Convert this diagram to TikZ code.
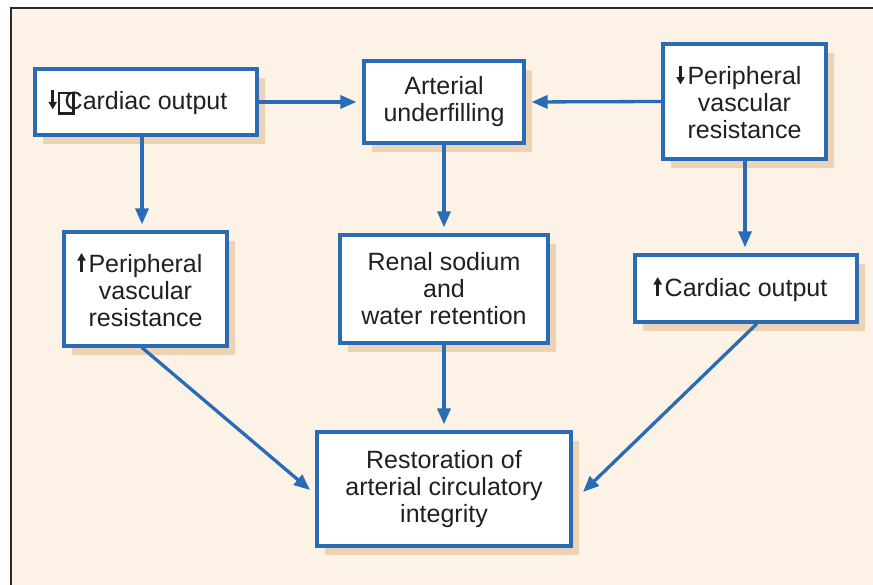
\documentclass[tikz,border=0pt]{standalone}
\usepackage{fontspec}
\setmainfont{Liberation Sans}
\usetikzlibrary{arrows.meta,shadows}
\definecolor{cream}{HTML}{FCF2E5}
\definecolor{peach}{HTML}{EDD2B3}
\definecolor{boxblue}{HTML}{2A6BB5}
\definecolor{frame}{HTML}{2E2A28}
\definecolor{ink}{HTML}{231F20}
\newsavebox\uparrbox
\newsavebox\downarrbox
\sbox\uparrbox{\tikz[baseline=0pt,x=1pt,y=1pt]{\draw[ink,line width=2.5pt,-{Triangle[length=7.5pt,width=8pt]}] (0,0) -- (0,19);}}
\sbox\downarrbox{\tikz[baseline=0pt,x=1pt,y=1pt]{\draw[ink,line width=2.5pt,-{Triangle[length=7.5pt,width=8pt]}] (0,19) -- (0,0);}}
\newcommand{\upar}{\llap{\usebox\uparrbox\kern3pt}}
\newcommand{\downar}{\llap{\usebox\downarrbox\kern3pt}}
\newcommand{\glitchbox}{\rlap{\raisebox{-3pt}{\setlength\fboxrule{2.4pt}\setlength\fboxsep{0pt}\fbox{\rule{0pt}{18pt}\hspace{12pt}}}}}
\begin{document}
\begin{tikzpicture}[x=1pt,y=-1pt,
  box/.style={draw=boxblue, line width=3.2pt, fill=white, align=center,
    text=ink, inner sep=0pt,
    font=\fontsize{25}{27}\selectfont,
    general shadow={shadow xshift=8pt, shadow yshift=-9pt, fill=peach, draw=none}},
  conn/.style={draw=boxblue, line width=3.3pt, -{Triangle[length=16pt,width=13pt]}}]
\useasboundingbox (0,0) rectangle (873,585);
\fill[white] (0,0) rectangle (873,585);
\fill[cream] (11,8) rectangle (873,585);
\draw[frame, line width=2.4pt] (11,585) -- (11,8) -- (873,8);

\node[box, minimum width=222pt, minimum height=66pt] (B1) at (146,102)
  {\llap{\usebox\downarrbox\kern1pt\glitchbox\kern7pt}Cardiac output};
\node[box, minimum width=160pt, minimum height=82pt] (B2) at (444,102)
  {Arterial\\underfilling};
\node[box, minimum width=163pt, minimum height=115pt] (B3) at (744.5,101.5)
  {\downar Peripheral\\vascular\\resistance};
\node[box, minimum width=163pt, minimum height=114pt] (B4) at (145.5,289)
  {\upar Peripheral\\vascular\\resistance};
\node[box, minimum width=208pt, minimum height=108pt] (B5) at (444,289)
  {Renal sodium\\and\\water retention};
\node[box, minimum width=222pt, minimum height=67pt] (B6) at (746,288.5)
  {\upar Cardiac output};
\node[box, minimum width=254pt, minimum height=114pt] (B7) at (444,489)
  {Restoration of\\arterial circulatory\\integrity};

\coordinate (t1) at (310,490);
\coordinate (t2) at (583,492);

\draw[conn, shorten >=6pt] (B1.east) -- (B2.west);
\draw[conn, shorten >=6pt] (B3.west) -- (B2.east);
\draw[conn, shorten >=6pt] ([xshift=-4pt]B1.south) -- ([xshift=-3.5pt]B4.north);
\draw[conn, shorten >=6pt] (B2.south) -- (B5.north);
\draw[conn, shorten >=6pt] ([xshift=0.5pt]B3.south) -- ([xshift=-1pt]B6.north);
\draw[conn, shorten >=6pt] (B5.south) -- (B7.north);
\draw[conn] ([xshift=-3.5pt]B4.south) -- (t1);
\draw[conn] ([xshift=11pt]B6.south) -- (t2);
\end{tikzpicture}
\end{document}
